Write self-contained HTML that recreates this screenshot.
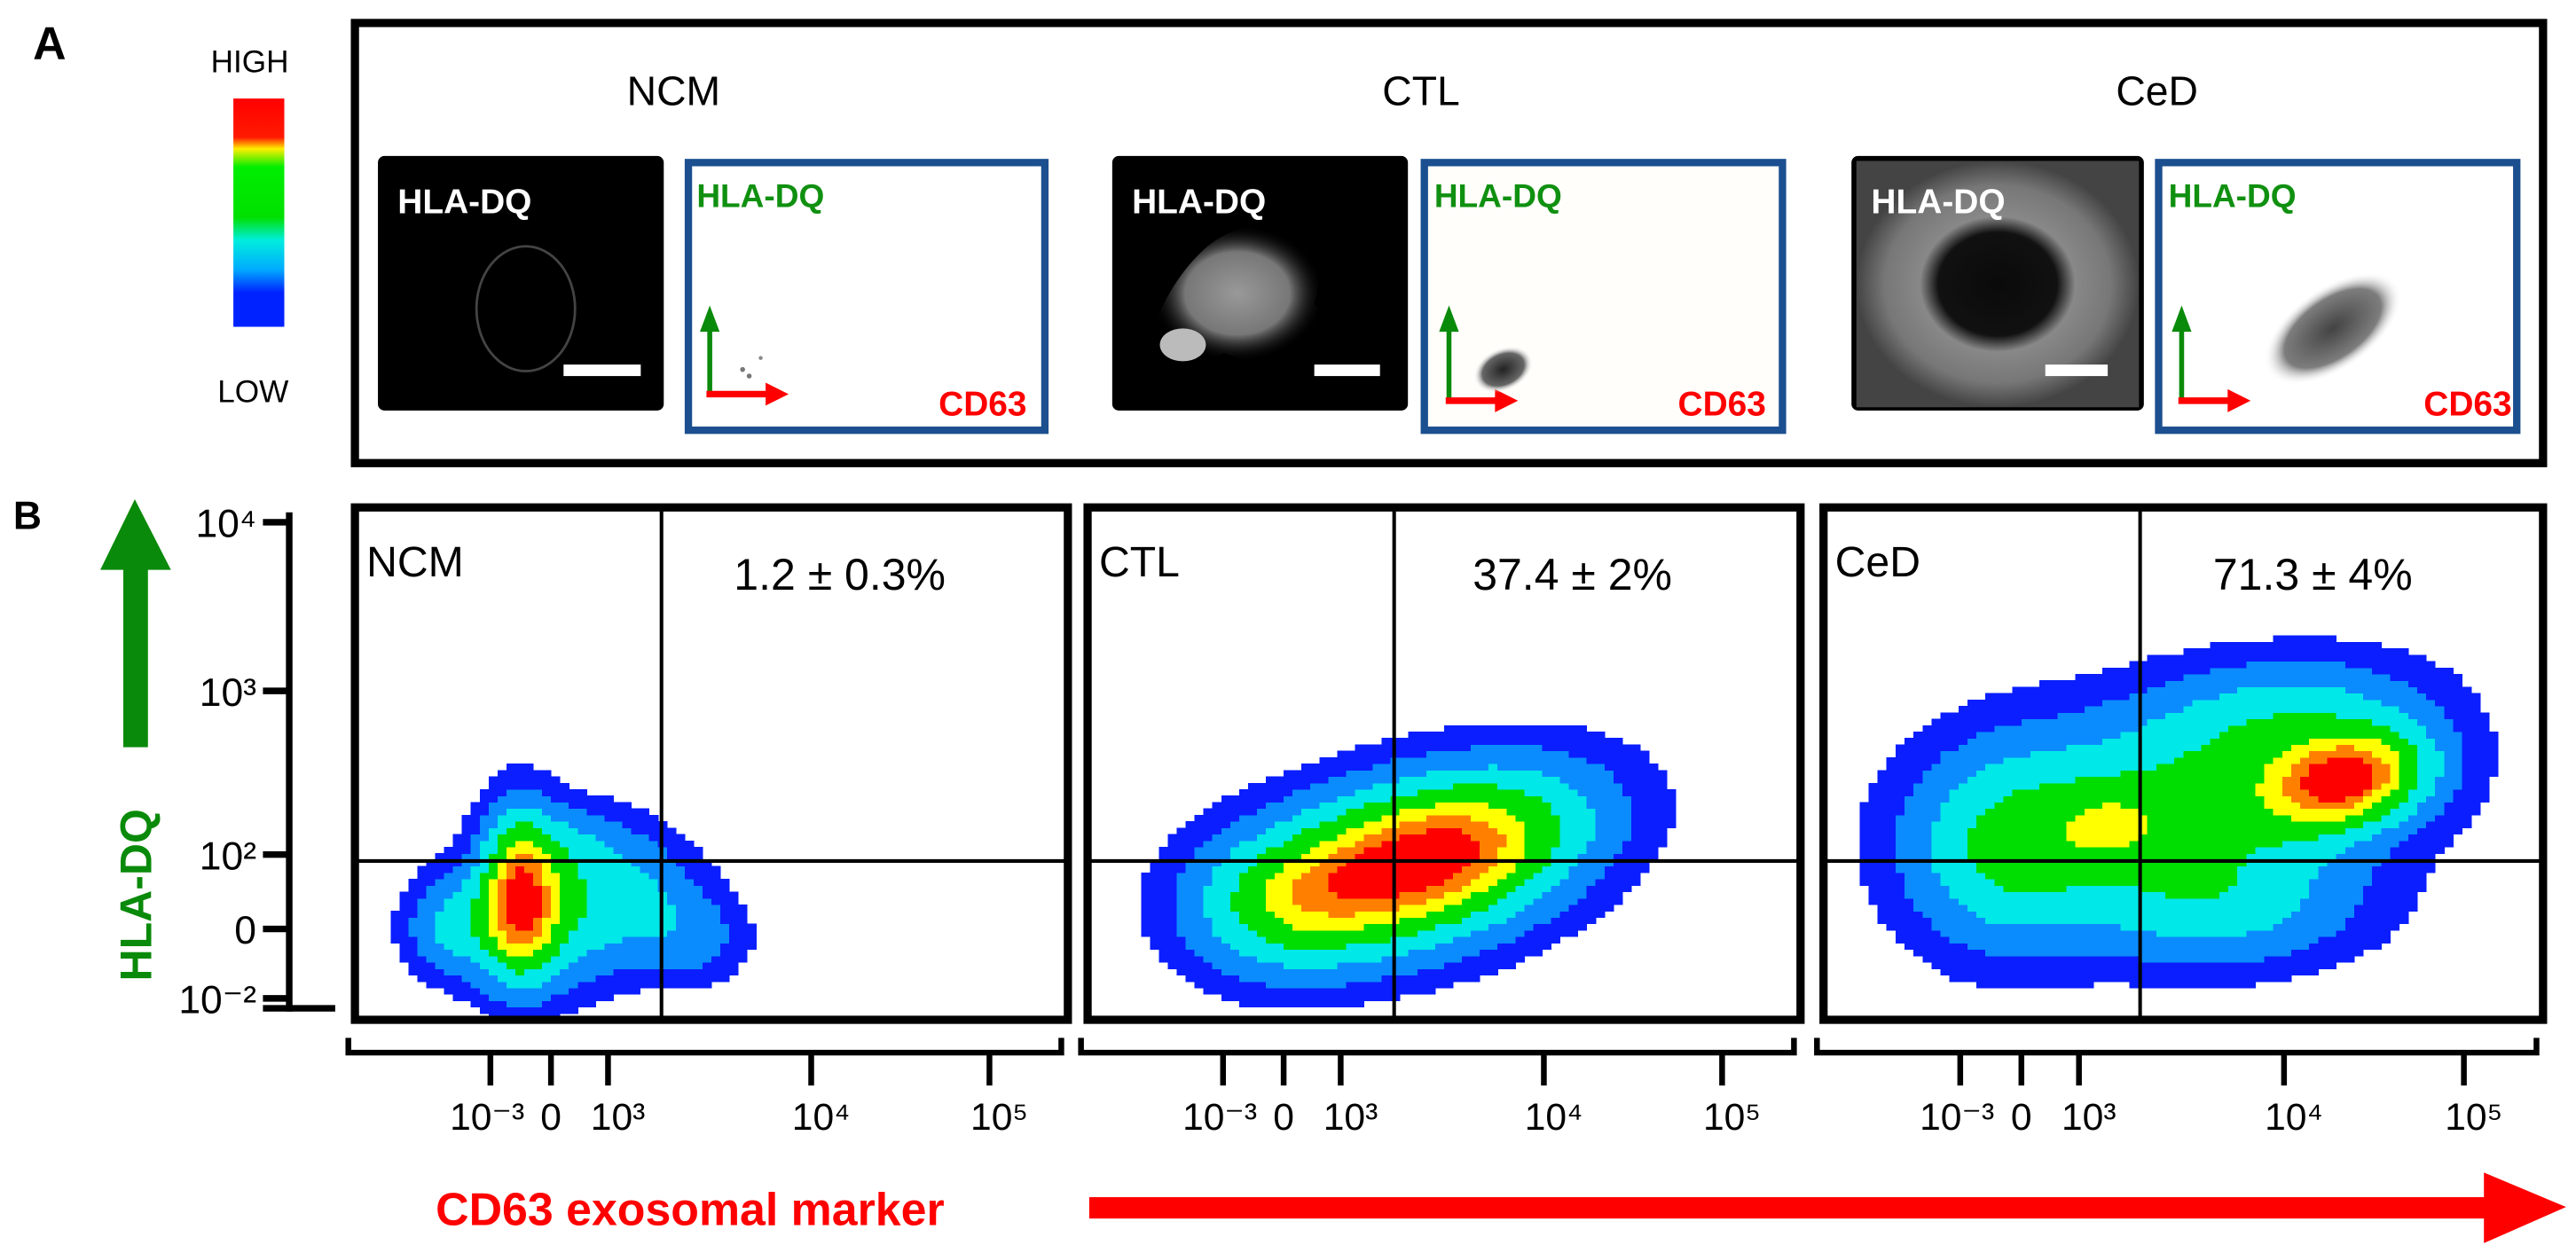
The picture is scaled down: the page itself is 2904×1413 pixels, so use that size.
<!DOCTYPE html>
<html><head><meta charset="utf-8"><style>
html,body{margin:0;padding:0;background:#fff}
svg{display:block}
text{font-family:"Liberation Sans",sans-serif}
</style></head><body>
<svg id="fig" width="2904" height="1413" viewBox="0 0 1568 763" xmlns="http://www.w3.org/2000/svg">
<defs>
<linearGradient id="cbar" x1="0" y1="0" x2="0" y2="1">
<stop offset="0" stop-color="#ff0000"/><stop offset="0.17" stop-color="#ff1a00"/><stop offset="0.22" stop-color="#ffee00"/><stop offset="0.3" stop-color="#00ee00"/><stop offset="0.52" stop-color="#00e000"/><stop offset="0.62" stop-color="#00eedd"/><stop offset="0.75" stop-color="#00aaff"/><stop offset="0.85" stop-color="#0022ff"/><stop offset="1" stop-color="#0022ff"/>
</linearGradient>
<radialGradient id="cellCTL"><stop offset="0" stop-color="#999"/><stop offset="0.6" stop-color="#777"/><stop offset="1" stop-color="#000" stop-opacity="0"/></radialGradient>
<radialGradient id="cellCeD"><stop offset="0" stop-color="#0a0a0a"/><stop offset="0.42" stop-color="#111"/><stop offset="0.55" stop-color="#888"/><stop offset="0.8" stop-color="#777"/><stop offset="1" stop-color="#444"/></radialGradient>
<radialGradient id="dotsG"><stop offset="0" stop-color="#222"/><stop offset="0.7" stop-color="#666"/><stop offset="1" stop-color="#fff" stop-opacity="0"/></radialGradient>
</defs>

<!-- Panel A -->
<text x="20" y="36" font-size="28" font-weight="bold">A</text>
<text x="152" y="44" font-size="19" text-anchor="middle">HIGH</text>
<rect x="142" y="60" width="31" height="139" fill="url(#cbar)"/>
<text x="154" y="245" font-size="19" text-anchor="middle">LOW</text>
<rect x="216" y="14" width="1332" height="268" fill="none" stroke="#000" stroke-width="5"/>

<text x="410" y="64" font-size="25" text-anchor="middle">NCM</text>
<text x="865" y="64" font-size="25" text-anchor="middle">CTL</text>
<text x="1313" y="64" font-size="25" text-anchor="middle">CeD</text>

<!-- NCM images -->
<g>
<rect x="230" y="95" width="174" height="155" rx="4" fill="#000"/>
<ellipse cx="320" cy="188" rx="30" ry="38" fill="none" stroke="#444" stroke-width="1.5"/>
<text x="242" y="130" font-size="21" font-weight="bold" fill="#fff">HLA-DQ</text>
<rect x="343" y="222" width="47" height="7" fill="#fff"/>
</g>
<g>
<rect x="419" y="99" width="217" height="163" fill="#fff" stroke="#1b4f8f" stroke-width="4.5"/>
<text x="424" y="126" font-size="20" font-weight="bold" fill="#109010">HLA-DQ</text>
<text x="625" y="253" font-size="21" font-weight="bold" fill="#ff0000" text-anchor="end">CD63</text>
<line x1="432" y1="240" x2="432" y2="200" stroke="#0a8a0a" stroke-width="3"/><polygon points="426,202 438,202 432,186" fill="#0a8a0a"/>
<line x1="430" y1="240" x2="468" y2="240" stroke="#ff0000" stroke-width="4"/><polygon points="466,233 466,247 480,240" fill="#ff0000"/>
<circle cx="452" cy="225" r="1.5" fill="#777"/><circle cx="456" cy="229" r="1.5" fill="#777"/><circle cx="463" cy="218" r="1.2" fill="#888"/>
</g>

<!-- CTL images -->
<g>
<rect x="677" y="95" width="180" height="155" rx="4" fill="#000"/>
<path d="M700 205 Q712 170 735 150 Q760 130 790 140 Q808 160 800 185 Q815 200 795 215 Q770 225 745 215 Q720 230 700 205Z" fill="url(#cellCTL)"/>
<ellipse cx="720" cy="210" rx="14" ry="10" fill="#bbb"/>
<text x="689" y="130" font-size="21" font-weight="bold" fill="#fff">HLA-DQ</text>
<rect x="800" y="222" width="40" height="7" fill="#fff"/>
</g>
<g>
<rect x="867" y="99" width="218" height="163" fill="#fffefa" stroke="#1b4f8f" stroke-width="4.5"/>
<text x="873" y="126" font-size="20" font-weight="bold" fill="#109010">HLA-DQ</text>
<text x="1075" y="253" font-size="21" font-weight="bold" fill="#ff0000" text-anchor="end">CD63</text>
<line x1="882" y1="244" x2="882" y2="200" stroke="#0a8a0a" stroke-width="3"/><polygon points="876,202 888,202 882,186" fill="#0a8a0a"/>
<line x1="880" y1="244" x2="912" y2="244" stroke="#ff0000" stroke-width="4"/><polygon points="910,237 910,251 924,244" fill="#ff0000"/>
<ellipse cx="915" cy="225" rx="19" ry="13" transform="rotate(-25 915 225)" fill="url(#dotsG)"/>
</g>

<!-- CeD images -->
<g>
<rect x="1127" y="95" width="178" height="155" rx="4" fill="#000"/>
<rect x="1130" y="98" width="172" height="150" fill="url(#cellCeD)"/>
<text x="1139" y="130" font-size="21" font-weight="bold" fill="#fff">HLA-DQ</text>
<rect x="1245" y="222" width="38" height="7" fill="#fff"/>
</g>
<g>
<rect x="1314" y="99" width="218" height="163" fill="#fff" stroke="#1b4f8f" stroke-width="4.5"/>
<text x="1320" y="126" font-size="20" font-weight="bold" fill="#109010">HLA-DQ</text>
<text x="1529" y="253" font-size="21" font-weight="bold" fill="#ff0000" text-anchor="end">CD63</text>
<line x1="1328" y1="244" x2="1328" y2="200" stroke="#0a8a0a" stroke-width="3"/><polygon points="1322,202 1334,202 1328,186" fill="#0a8a0a"/>
<line x1="1326" y1="244" x2="1358" y2="244" stroke="#ff0000" stroke-width="4"/><polygon points="1356,237 1356,251 1370,244" fill="#ff0000"/>
<ellipse cx="1420" cy="200" rx="48" ry="25" transform="rotate(-35 1420 200)" fill="url(#dotsG)" opacity="0.85"/>
</g>

<!-- Panel B -->
<text x="8" y="322" font-size="24" font-weight="bold">B</text>
<g>
<rect x="75" y="345" width="15" height="110" fill="#0a8a0a"/>
<polygon points="61,347 104,347 82,304" fill="#0a8a0a"/>
</g>
<text x="0" y="0" font-size="27" font-weight="bold" fill="#0a8a0a" text-anchor="middle" transform="translate(92,545) rotate(-90)">HLA-DQ</text>
<g id="yaxis"></g>
<g id="panels"></g>
<text x="420" y="746" font-size="28" font-weight="bold" fill="#ff0000" text-anchor="middle">CD63 exosomal marker</text>
<g>
<rect x="663" y="729" width="855" height="13" fill="#ff0000"/>
<polygon points="1512,714 1512,757 1562,735" fill="#ff0000"/>
</g>
</svg>
<script>
// ---- data ----
var panelNames = ["NCM", "CTL", "CeD"];
var percentLabels = ["1.2 \u00b1 0.3%", "37.4 \u00b1 2%", "71.3 \u00b1 4%"];
var yTickLabels = ["10\u2074", "10\u00b3", "10\u00b2", "0", "10\u207b\u00b2"];
var yTickValues = [98, 64, 31, 16, 2];           // % of axis height
var xTickLabels = ["10\u207b\u00b3", "0", "10\u00b3", "10\u2074", "10\u2075"];
var xTickValues = [19, 27.5, 35.5, 64, 89];      // % of axis width
var quadX = [43, 43, 44];                         // gate position (% width)
var quadY = [31, 31, 31];                         // gate position (% height)
// density components: [cx, cy, sx, sy, angleDeg, weight] in % units
var densNCM = [[23,25,3.5,11,0,1],[26,20,8,9,0,0.65],[40,24,6,8,0,0.35],[48,16,5,6,0,0.25],[13,18,4,6,0,0.35],[30,34,6,6,0,0.3]];
var densCTL = [[43,29,14,10,20,1],[56,37,13,9,25,0.5],[27,22,9,9,15,0.4]];
var densCeD = [[73,47,8,6,30,1],[50,42,19,13,15,0.6],[25,33,9,13,0,0.45],[55,22,13,8,0,0.35],[65,60,12,7,10,0.3],[40,38,5,5,0,0.25]];
var densities = [densNCM, densCTL, densCeD];

// ---- layout ----
var NS = "http://www.w3.org/2000/svg";
var panelBoxes = [[216,309,434,312],[662,309,434,312],[1110,309,438,312]];
var levels = [0.05,0.13,0.26,0.42,0.6,0.74,0.86];
var colors = ["#0a1eff","#0a8cff","#00e8e8","#00dd00","#ffff00","#ff8000","#ff0000"];
function mk(tag, attrs, parent){var e=document.createElementNS(NS,tag);for(var k in attrs)e.setAttribute(k,attrs[k]);parent.appendChild(e);return e;}
function xs(b,v){return b[0]+v/100*b[2];}
function ys(b,v){return b[1]+b[3]-v/100*b[3];}
function dens(comp,x,y){var s=0;for(var i=0;i<comp.length;i++){var c=comp[i],a=c[4]*Math.PI/180;var dx=x-c[0],dy=y-c[1];var u=dx*Math.cos(a)+dy*Math.sin(a),v=-dx*Math.sin(a)+dy*Math.cos(a);s+=c[5]*Math.exp(-0.5*(u*u/(c[2]*c[2])+v*v/(c[3]*c[3])));}return s;}

// y axis
var ya=document.getElementById('yaxis');
var yb=[160,312,16,302];
mk('line',{x1:176,y1:312,x2:176,y2:616,stroke:'#000','stroke-width':4},ya);
mk('line',{x1:160,y1:614,x2:204,y2:614,stroke:'#000','stroke-width':4},ya);
yTickValues.forEach(function(v,i){
  var y=ys(yb,v);
  var t=mk('line',{x1:160,y1:y,x2:176,y2:y,stroke:'#000','stroke-width':4},ya);
  
  
  var tx=mk('text',{x:156,y:y+9,'font-size':24,'text-anchor':'end'},ya);
  tx.textContent=yTickLabels[i];
  
  
});

var pg=document.getElementById('panels');
panelBoxes.forEach(function(b,p){
  var g=mk('g',{},pg);
  
  
  var comp=densities[p];var step=1.25, mx=0, cells=[];
  for(var x=0;x<100;x+=step){for(var y=0;y<100;y+=step){var d=dens(comp,x+step/2,y+step/2);cells.push([x,y,d]);if(d>mx)mx=d;}}
  var cg=mk('g',{'shape-rendering':'crispEdges'},g);
  cells.forEach(function(c){var r=c[2]/mx;var li=-1;for(var k=0;k<levels.length;k++)if(r>=levels[k])li=k;if(li<0)return;
    var cx=xs(b,c[0]),cy=ys(b,c[1]+step);
    var rc=mk('rect',{x:cx,y:cy,width:b[2]*step/100+0.3,height:b[3]*step/100+0.3,fill:colors[li]},cg);
    
    
  });
  var qx=xs(b,quadX[p]),qy=ys(b,quadY[p]);
  var ql=mk('line',{x1:qx,y1:b[1],x2:qx,y2:b[1]+b[3],stroke:'#000','stroke-width':2.2},g);
  
  
  var qh=mk('line',{x1:b[0],y1:qy,x2:b[0]+b[2],y2:qy,stroke:'#000','stroke-width':2.2},g);
  
  
  var fr=mk('rect',{x:b[0],y:b[1],width:b[2],height:b[3],fill:'none',stroke:'#000','stroke-width':5},g);
  
  
  var nl=mk('text',{x:b[0]+7,y:b[1]+42,'font-size':26},g);nl.textContent=panelNames[p];
  
  
  var pl=mk('text',{x:b[0]+b[2]*0.68,y:b[1]+50,'font-size':27,'text-anchor':'middle'},g);pl.textContent=percentLabels[p];
  
  
  var xa=mk('g',{},g);
  
  
  var by=641;
  mk('path',{d:'M'+(b[0]-4)+' 632 V'+by+' H'+(b[0]+b[2]-4)+' V632',fill:'none',stroke:'#000','stroke-width':3.5},xa);
  xTickValues.forEach(function(v,i){var x=xs(b,v);
    var tl=mk('line',{x1:x,y1:by,x2:x,y2:661,stroke:'#000','stroke-width':3.5},xa);
    
    
    var tt=mk('text',{x:x+(i==0?-2:(i==1?0:6)),y:688,'font-size':23,'text-anchor':'middle'},xa);tt.textContent=xTickLabels[i];
    
    
  });
});
</script>
</body></html>
